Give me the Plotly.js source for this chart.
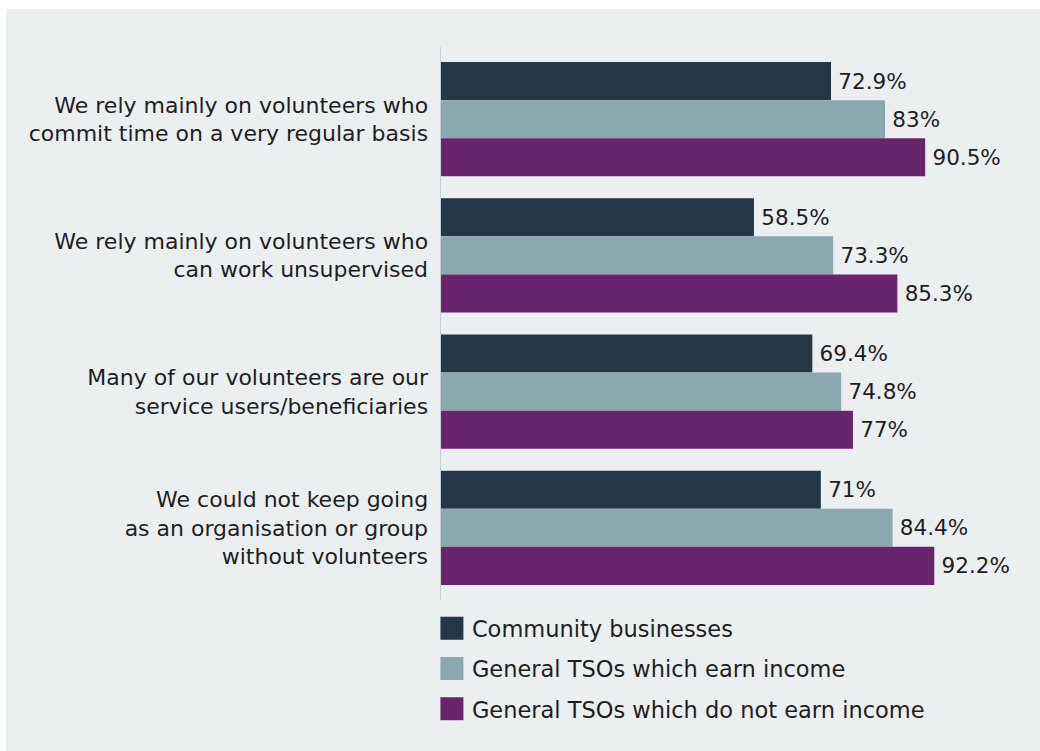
<!DOCTYPE html>
<html>
<head>
<meta charset="utf-8">
<script src="https://cdn.plot.ly/plotly-3.0.1.min.js"></script>
<style>
  html, body { margin: 0; padding: 0; background: #ffffff; }
  #chart { position: absolute; left: 6px; top: 9px; width: 1034px; height: 742px; }
</style>
</head>
<body>
<div id="chart"></div>
<script>
const categories = [
  "We rely mainly on volunteers who<br>commit time on a very regular basis",
  "We rely mainly on volunteers who<br>can work unsupervised",
  "Many of our volunteers are our<br>service users/beneficiaries",
  "We could not keep going<br>as an organisation or group<br>without volunteers"
];
const seriesNames = [
  "Community businesses",
  "General TSOs which earn income",
  "General TSOs which do not earn income"
];
const communityBusinesses = [72.9, 58.5, 69.4, 71];
const tsosEarnIncome = [83, 73.3, 74.8, 84.4];
const tsosNoIncome = [90.5, 85.3, 77, 92.2];
const seriesColors = ["#243746", "#8AA8AD", "#68246C"];

const FONT = "DejaVu Sans, Verdana, sans-serif";
const allSeries = [communityBusinesses, tsosEarnIncome, tsosNoIncome];

const traces = allSeries.map((vals, i) => ({
  type: "bar",
  orientation: "h",
  name: seriesNames[i],
  x: vals,
  y: categories,
  text: vals.map(v => "\u2009" + String(v) + "%"),
  textposition: "outside",
  cliponaxis: false,
  textfont: { family: FONT, size: 21.5, color: "#1e1e1e" },
  marker: { color: seriesColors[i], line: { width: 0 } },
  legendgroup: "g" + i,
  hoverinfo: "x+y"
}));

const layout = {
  width: 1034,
  height: 742,
  paper_bgcolor: "#ECEFF0",
  plot_bgcolor: "#ECEFF0",
  margin: { l: 435, r: 64, t: 38, b: 151 },
  barmode: "group",
  bargap: 0.162,
  bargroupgap: 0,
  showlegend: true,
  font: { family: FONT, size: 20, color: "#1e1e1e" },
  xaxis: {
    range: [0, 100],
    showticklabels: false,
    showgrid: false,
    zeroline: false,
    showline: false,
    ticks: ""
  },
  yaxis: {
    type: "category",
    categoryorder: "array",
    categoryarray: categories,
    range: [3.53, -0.53],
    showline: true,
    linecolor: "#C5D0D6",
    linewidth: 1.5,
    showgrid: false,
    zeroline: false,
    ticks: "outside",
    ticklen: 7,
    tickcolor: "rgba(0,0,0,0)",
    tickfont: { family: FONT, size: 22, color: "#1e1e1e" }
  },
  legend: {
    orientation: "v",
    x: -0.017,
    xanchor: "left",
    y: -0.013,
    yanchor: "top",
    bgcolor: "rgba(0,0,0,0)",
    traceorder: "grouped",
    tracegroupgap: 8,
    font: { family: FONT, size: 22.5, color: "#1e1e1e" }
  }
};

Plotly.newPlot("chart", traces, layout, { displayModeBar: false, staticPlot: true }).then(() => {
  document.querySelectorAll("#chart .legendpoints path").forEach(p => {
    p.setAttribute("d", "M11.5,11.5H-11.5V-11.5H11.5Z");
  });
});
</script>
</body>
</html>
